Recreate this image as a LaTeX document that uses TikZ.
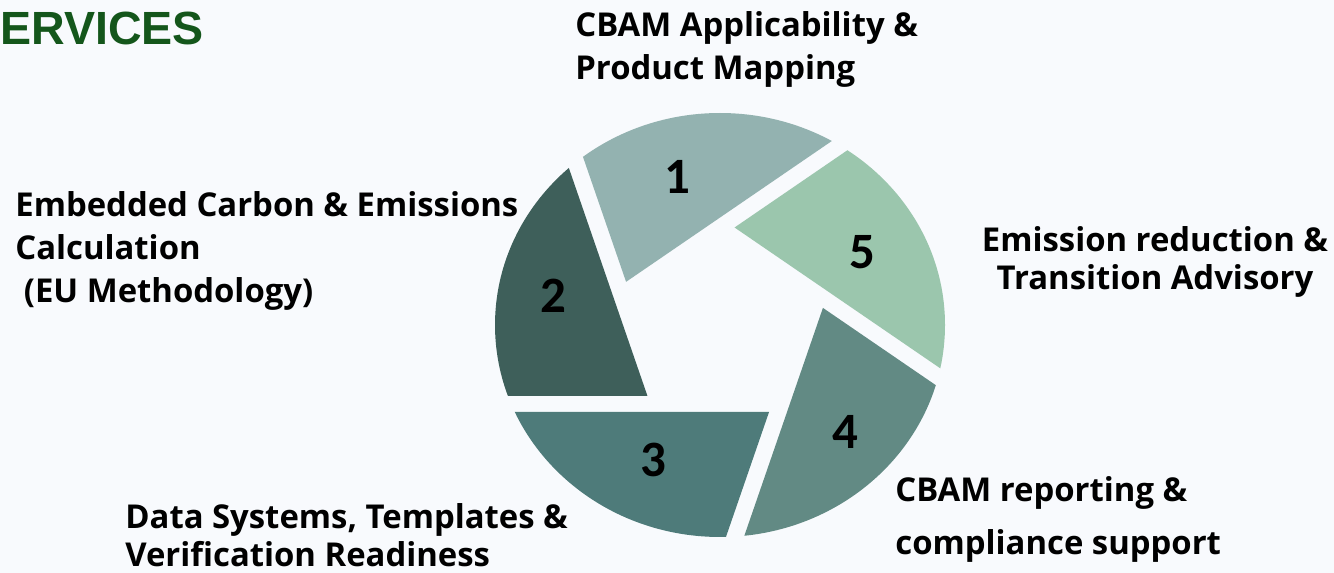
\documentclass[tikz,border=0pt]{standalone}
\usepackage{fontspec}
\setmainfont{Open Sans}
\newfontfamily\titlefont{Liberation Sans}
\newfontfamily\numfont{Carlito}
\definecolor{pagebg}{HTML}{F8FAFD}
\definecolor{titlegreen}{HTML}{14561B}
\definecolor{bladeone}{HTML}{93B2B0}
\definecolor{bladetwo}{HTML}{3E5F5A}
\definecolor{bladethree}{HTML}{4E7B7A}
\definecolor{bladefour}{HTML}{628A84}
\definecolor{bladefive}{HTML}{9BC6AD}
\tikzset{
  steplabel/.style={inner sep=0pt, font=\bfseries\fontsize{18.7}{24.4}\selectfont},
  bladenum/.style={font=\numfont\bfseries\fontsize{29}{30}\selectfont}
}
\begin{document}
\begin{tikzpicture}[x=0.02cm, y=-0.02cm]
        \fill[pagebg] (0,0) rectangle (1334,573);
        \useasboundingbox (0,0) rectangle (1334,573);
        \node[anchor=north west, inner sep=0pt, text=titlegreen, font=\titlefont\bfseries\fontsize{26.5}{30}\selectfont] (title) at (0,12) {ERVICES};
        % aperture blades
        \begin{scope}[shift={(720,325)}, yscale=-0.9422]
          \foreach \ang/\col in {154/bladeone, 226/bladetwo, 298/bladethree, 10/bladefour, 82/bladefive}{
            \begin{scope}
              \clip (0,0) circle[radius=225];
              \fill[\col] (\ang:104.5) -- +(\ang-118:600) -- +(\ang-46:600) -- cycle;
            \end{scope}
          }
        \end{scope}
        \node[bladenum] (n1) at (677,177) {1};
        \node[bladenum] (n2) at (553,296) {2};
        \node[bladenum] (n3) at (653,460) {3};
        \node[bladenum] (n4) at (845,432) {4};
        \node[bladenum] (n5) at (862,252) {5};
        % labels
        \node[steplabel, anchor=north west, align=left] (l1) at (575,11) {CBAM Applicability \&\\Product Mapping};
        \node[steplabel, anchor=north west, align=left] (l2) at (15,191) {Embedded Carbon \& Emissions\\Calculation\\\ (EU Methodology)};
        \node[steplabel, anchor=north, align=center, font=\bfseries\fontsize{18.7}{21.5}\selectfont] (l5) at (1155,226) {Emission reduction \&\\Transition Advisory};
        \node[steplabel, anchor=north west, align=left, font=\bfseries\fontsize{18.7}{30}\selectfont] (l4) at (895,476) {CBAM reporting \&\\compliance support};
        \node[steplabel, anchor=north west, align=left, font=\bfseries\fontsize{18.7}{21.5}\selectfont] (l3) at (125,503) {Data Systems, Templates \&\\Verification Readiness};
      \end{tikzpicture}
\end{document}
